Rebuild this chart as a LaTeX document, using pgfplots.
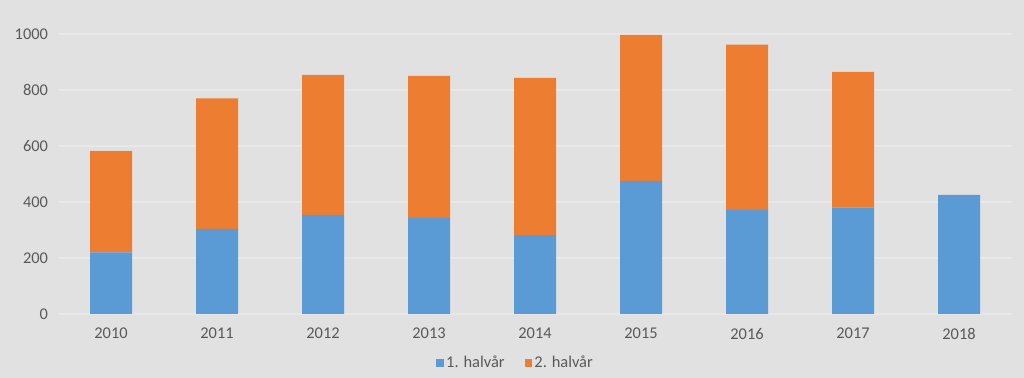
\documentclass[border=0pt]{standalone}
\usepackage{fontspec}
\setmainfont{Carlito}
\usepackage{pgfplots}
\pgfplotsset{compat=1.18}
\definecolor{bg}{HTML}{E1E1E1}
\definecolor{gridc}{HTML}{E8E8E8}
\definecolor{txt}{HTML}{595959}
\definecolor{blueb}{HTML}{5B9BD5}
\definecolor{orangeb}{HTML}{ED7D31}
\begin{document}
\begin{tikzpicture}
\fill[bg] (0pt,0pt) rectangle (768pt,283.5pt);
\begin{axis}[
  at={(43.5pt,48pt)}, anchor=south west,
  scale only axis, width=715.5pt, height=210pt,
  ybar stacked, bar width=31.5pt,
  xmin=-0.5, xmax=8.5, ymin=0, ymax=1000,
  xtick=data, xticklabels={2010,2011,2012,2013,2014,2015,2016,2017,2018},
  ytick={0,200,400,600,800,1000},
  ymajorgrids, grid style={color=gridc, line width=0.8pt},
  axis line style={draw=none}, major tick length=0pt,
  tick label style={font=\fontsize{12.3}{14}\selectfont, text=txt},
  /pgf/number format/assume math mode=true,
  /pgf/number format/1000 sep={},
  yticklabel style={xshift=-4pt},
  xticklabel style={yshift=-7pt},
  legend style={at={(0.48,-0.175)}, anchor=center, legend columns=2, draw=none, fill=none,
    font=\fontsize{12.3}{14}\selectfont, text=txt,
    /tikz/every even column/.append style={column sep=13pt},
    nodes={inner xsep=2pt}},
  legend image code/.code={\fill[#1] (0pt,-2.7pt) rectangle (5.4pt,2.7pt);},
  every axis plot/.append style={draw=none},
]
\addplot[fill=blueb] coordinates {(0,220) (1,304) (2,354) (3,343) (4,282) (5,475) (6,372) (7,380) (8,425)};
\addplot[fill=orangeb] coordinates {(0,363) (1,466) (2,500) (3,507) (4,561) (5,522) (6,590) (7,485) (8,0)};
\legend{1. halvår, 2. halvår}
\end{axis}
\end{tikzpicture}
\end{document}
